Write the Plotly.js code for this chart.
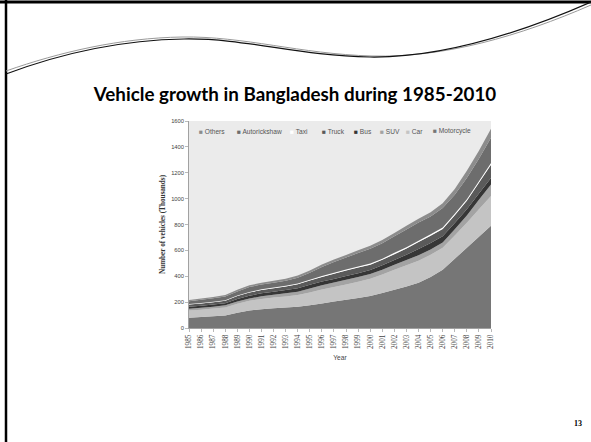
<!DOCTYPE html>
<html>
<head>
<meta charset="utf-8">
<script src="https://cdn.plot.ly/plotly-3.0.1.min.js"></script>
<style>
  html, body { margin: 0; padding: 0; background: #ffffff; }
  #slide { position: relative; width: 591px; height: 442px; overflow: hidden; }
  #chart { position: absolute; left: 0; top: 0; width: 591px; height: 442px; }
  #frame { position: absolute; left: 0; top: 0; pointer-events: none; }
</style>
</head>
<body>
<div id="slide">
  <div id="chart"></div>
  <!-- slide frame and the decorative swoosh across the top -->
  <svg id="frame" width="591" height="442" viewBox="0 0 591 442">
    <line x1="0" y1="2" x2="591" y2="2" stroke="#000" stroke-width="3"/>
    <line x1="6" y1="0" x2="6" y2="442" stroke="#000" stroke-width="2.5"/>
    <path d="M6 71 C 60 52, 120 38, 182 37 S 300 54, 372 56 S 520 36, 591 5"
          fill="none" stroke="#9a9a9a" stroke-width="1"/>
    <path d="M6 74 C 62 53, 122 40, 184 39 S 298 56, 370 57 S 518 34, 591 2"
          fill="none" stroke="#111" stroke-width="1.2"/>
  </svg>
</div>
<script>
// Registered vehicles in Bangladesh, thousands, 1985-2010
const years = [1985, 1986, 1987, 1988, 1989, 1990, 1991, 1992, 1993, 1994, 1995, 1996, 1997,
               1998, 1999, 2000, 2001, 2002, 2003, 2004, 2005, 2006, 2007, 2008, 2009, 2010];

const motorcycle   = [80, 85, 90, 97, 118, 135, 145, 152, 158, 165, 175, 190, 204,
                      218, 232, 248, 270, 295, 320, 350, 395, 450, 535, 620, 705, 790];
const car          = [55, 57, 60, 62, 70, 75, 80, 83, 86, 90, 100, 108, 112,
                      118, 125, 133, 143, 155, 165, 170, 172, 170, 180, 193, 212, 230];
const suv          = [14, 15, 15, 16, 17, 18, 20, 22, 24, 26, 30, 33, 36,
                      37, 37, 36, 37, 38, 40, 43, 40, 40, 48, 57, 74, 90];
const bus          = [15, 15, 16, 17, 20, 22, 23, 24, 25, 27, 30, 28, 26,
                      28, 30, 32, 35, 38, 42, 48, 50, 50, 48, 47, 48, 50];
const truck        = [17, 18, 18, 19, 22, 24, 26, 27, 28, 30, 32, 36, 42,
                      44, 44, 40, 42, 45, 48, 53, 56, 56, 60, 66, 84, 102];
const taxi         = [4, 4, 4, 4, 5, 5, 5, 5, 6, 6, 6, 7, 8,
                      8, 8, 9, 9, 10, 10, 11, 11, 11, 12, 12, 12, 13];
const autorickshaw = [22, 24, 26, 29, 31, 38, 37, 37, 38, 45, 55, 70, 83,
                      92, 103, 115, 120, 128, 137, 140, 138, 150, 147, 165, 173, 195];
const others       = [10, 10, 11, 11, 12, 13, 14, 15, 15, 16, 17, 18, 19,
                      20, 21, 22, 24, 26, 28, 30, 33, 38, 45, 55, 62, 70];

// stacking order, bottom to top
const seriesNames  = ['Motorcycle', 'Car', 'SUV', 'Bus', 'Truck', 'Taxi', 'Autorickshaw', 'Others'];
const seriesValues = [motorcycle, car, suv, bus, truck, taxi, autorickshaw, others];
const seriesColors = ['#767676', '#c4c4c4', '#a3a3a3', '#363636', '#5a5a5a', '#ffffff', '#6d6d6d', '#8c8c8c'];

const yTicks = [0, 200, 400, 600, 800, 1000, 1200, 1400, 1600];

// plot area in page pixels
const L = 189, R = 491, T = 121, B = 328;
const W = R - L, H = B - T;
const px = x => (x - L) / W;
const py = y => (B - y) / H;

const traces = seriesNames.map((name, i) => ({
  type: 'scatter',
  x: years,
  y: seriesValues[i],
  name: name,
  stackgroup: 'vehicles',
  mode: 'none',
  fillcolor: seriesColors[i],
  showlegend: false,
  hoverinfo: 'skip'
}));

// legend row drawn inside the plot area, listed top series first
const legendLeft = [197, 235, 288, 320, 352, 378, 404, 431];
const legendNotes = seriesNames.slice().reverse().map((name, k) => {
  const color = seriesColors[seriesNames.length - 1 - k];
  return {
    xref: 'paper', yref: 'paper',
    x: px(legendLeft[k]), y: py(131),
    xanchor: 'left', yanchor: 'middle',
    showarrow: false,
    text: '<span style="color:' + color + '">\u25A0</span> ' + name,
    font: { family: 'Liberation Sans, Arial, sans-serif', size: 6.6, color: '#555555' }
  };
});

const layout = {
  width: 591,
  height: 442,
  margin: { l: L, r: 591 - R, t: T, b: 442 - B, pad: 0 },
  paper_bgcolor: '#ffffff',
  plot_bgcolor: '#ebebeb',
  showlegend: false,
  title: {
    text: 'Vehicle growth in Bangladesh during 1985-2010',
    xref: 'container', yref: 'container',
    x: 295 / 591, xanchor: 'center',
    y: 1 - 94 / 442, yanchor: 'middle',
    font: { family: 'Lato, Open Sans, sans-serif', size: 18.8, color: '#000000', weight: 'bold' }
  },
  xaxis: {
    range: [years[0], years[years.length - 1]],
    tickvals: years,
    ticktext: years.map(String),
    tickangle: -90,
    ticks: 'outside', ticklen: 3, tickwidth: 0.6, tickcolor: '#8a8a8a',
    showline: true, linecolor: '#8a8a8a', linewidth: 0.8,
    showgrid: false, zeroline: false,
    tickfont: { family: 'Liberation Serif, Times New Roman, serif', size: 7.2, color: '#444444' },
    title: {
      text: 'Year', standoff: 7,
      font: { family: 'Liberation Sans, Arial, sans-serif', size: 6.6, color: '#444444' }
    },
    fixedrange: true
  },
  yaxis: {
    range: [0, 1600],
    tickvals: yTicks,
    ticks: 'outside', ticklen: 3, tickwidth: 0.6, tickcolor: '#8a8a8a',
    showline: true, linecolor: '#8a8a8a', linewidth: 0.8,
    showgrid: false, zeroline: false,
    tickfont: { family: 'Liberation Sans, Arial, sans-serif', size: 5.8, color: '#444444' },
    title: {
      text: 'Number of vehicles (Thousands)', standoff: 4,
      font: { family: 'Liberation Serif, Times New Roman, serif', size: 7.2, color: '#333333', weight: 'bold' }
    },
    fixedrange: true
  },
  annotations: legendNotes.concat([{
    xref: 'paper', yref: 'paper',
    x: px(578), y: py(423),
    xanchor: 'center', yanchor: 'middle',
    showarrow: false,
    text: '13',
    font: { family: 'Liberation Serif, Times New Roman, serif', size: 8, color: '#000000', weight: 'bold' }
  }])
};

Plotly.newPlot('chart', traces, layout, { staticPlot: true, displayModeBar: false });
</script>
</body>
</html>
